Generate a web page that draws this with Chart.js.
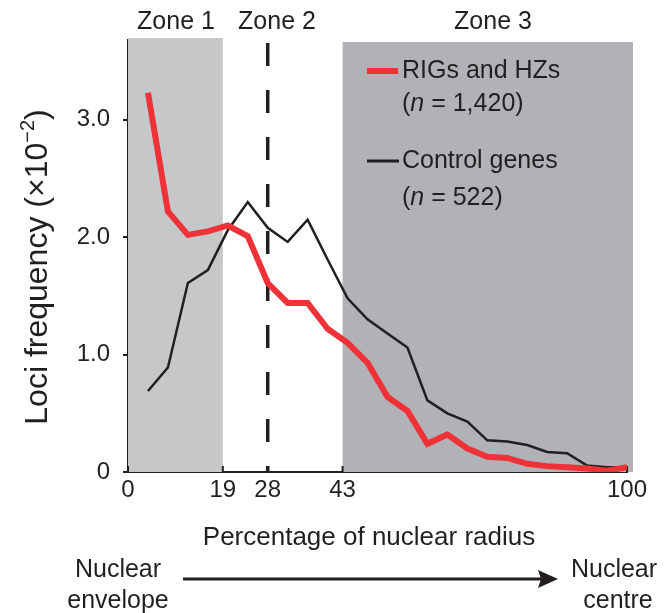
<!DOCTYPE html>
<html>
<head>
<meta charset="utf-8">
<script src="https://cdn.jsdelivr.net/npm/chart.js@4.4.1/dist/chart.umd.min.js"></script>
<style>
html,body{margin:0;padding:0;background:#fff;}
#c{display:block;}
</style>
</head>
<body>
<canvas id="c" width="672" height="613"></canvas>
<script>
// ---- Data ----
const radiusPct = [4, 8, 12, 16, 20, 24, 28, 32, 36, 40, 44, 48, 52, 56, 60, 64, 68, 72, 76, 80, 84, 88, 92, 96, 100];
const rigsHzs   = [3.23, 2.22, 2.02, 2.05, 2.10, 2.01, 1.61, 1.44, 1.44, 1.22, 1.10, 0.93, 0.64, 0.52, 0.24, 0.32, 0.20, 0.13, 0.12, 0.07, 0.05, 0.04, 0.03, 0.01, 0.04];
const controlGenes = [0.69, 0.89, 1.61, 1.72, 2.06, 2.30, 2.08, 1.96, 2.15, 1.81, 1.48, 1.30, 1.18, 1.06, 0.61, 0.50, 0.43, 0.27, 0.26, 0.23, 0.17, 0.16, 0.055, 0.04, 0.04];
const xTickValues = [0, 19, 28, 43, 100];
const xTickLabels = ['0', '19', '28', '43', '100'];
const yTickValues = [0, 1, 2, 3];
const yTickLabels = ['0', '1.0', '2.0', '3.0'];
const zoneBounds = [0, 19, 43, 100];   // zone 1: 0-19, zone 2: 19-43, zone 3: 43-100
const zoneNames = ['Zone 1', 'Zone 2', 'Zone 3'];
const dividerValue = 28;
const seriesNames = ['RIGs and HZs', 'Control genes'];
const seriesCounts = ['1,420', '522'];

const INK = '#231f20';
const RED = '#ee3238';
const FONT = "'Liberation Sans', Arial, Helvetica, sans-serif";

const decor = {
  id: 'decor',
  beforeDatasetsDraw(chart) {
    const {ctx, chartArea: a, scales: {x}} = chart;
    ctx.save();
    // zone 1 shading
    ctx.fillStyle = '#c6c7c9';
    const z1a = x.getPixelForValue(zoneBounds[0]), z1b = x.getPixelForValue(zoneBounds[1]);
    ctx.fillRect(z1a, a.top - 2, z1b - z1a, a.bottom - a.top + 2);
    // zone 3 shading
    ctx.fillStyle = '#b1b2b6';
    const z3a = x.getPixelForValue(zoneBounds[2]), z3b = x.getPixelForValue(zoneBounds[3]);
    ctx.fillRect(z3a, a.top + 2, z3b - z3a + 6, a.bottom - a.top - 2);
    // dashed divider
    const dx = x.getPixelForValue(dividerValue);
    ctx.strokeStyle = INK;
    ctx.lineWidth = 3.5;
    ctx.setLineDash([23, 24]);
    ctx.beginPath();
    ctx.moveTo(dx, a.top + 3);
    ctx.lineTo(dx, a.bottom);
    ctx.stroke();
    ctx.setLineDash([]);
    // inward x tick marks
    ctx.lineWidth = 2;
    xTickValues.forEach(v => {
      const px = x.getPixelForValue(v);
      ctx.beginPath();
      ctx.moveTo(px, a.bottom);
      ctx.lineTo(px, a.bottom - 6);
      ctx.stroke();
    });
    ctx.restore();
  },
  afterDraw(chart) {
    const {ctx} = chart;
    ctx.save();
    ctx.fillStyle = INK;
    ctx.textBaseline = 'alphabetic';
    // zone labels
    ctx.font = `25px ${FONT}`;
    ctx.textAlign = 'center';
    const zoneCenters = [176, 277, 493];
    zoneNames.forEach((n, i) => ctx.fillText(n, zoneCenters[i], 29));

    // legend
    ctx.textAlign = 'left';
    ctx.lineCap = 'butt';
    ctx.strokeStyle = RED; ctx.lineWidth = 6;
    ctx.beginPath(); ctx.moveTo(367, 71); ctx.lineTo(398, 71); ctx.stroke();
    ctx.strokeStyle = INK; ctx.lineWidth = 3;
    ctx.beginPath(); ctx.moveTo(367, 161); ctx.lineTo(399, 161); ctx.stroke();
    ctx.font = `25px ${FONT}`;
    ctx.fillText(seriesNames[0], 402, 78);
    ctx.fillText(seriesNames[1], 402, 168);
    const drawN = (count, y) => {
      let cx = 402;
      ctx.font = `25px ${FONT}`;
      ctx.fillText('(', cx, y); cx += ctx.measureText('(').width;
      ctx.font = `italic 25px ${FONT}`;
      ctx.fillText('n', cx, y); cx += ctx.measureText('n').width;
      ctx.font = `25px ${FONT}`;
      ctx.fillText(' = ' + count + ')', cx, y);
    };
    drawN(seriesCounts[0], 111);
    drawN(seriesCounts[1], 205);

    // y-axis title with superscript
    ctx.save();
    ctx.translate(47, 267);
    ctx.rotate(-Math.PI / 2);
    const mainF = `32px ${FONT}`, supF = `20px ${FONT}`;
    const p1 = 'Loci frequency (\u00d710', p2 = '\u22122', p3 = ')';
    ctx.font = mainF; const w1 = ctx.measureText(p1).width, w3 = ctx.measureText(p3).width;
    ctx.font = supF; const w2 = ctx.measureText(p2).width;
    let sx = -(w1 + w2 + w3) / 2;
    ctx.textAlign = 'left';
    ctx.font = mainF; ctx.fillText(p1, sx, 0); sx += w1;
    ctx.font = supF; ctx.fillText(p2, sx, -13); sx += w2;
    ctx.font = mainF; ctx.fillText(p3, sx, 0);
    ctx.restore();

    // x-axis title
    ctx.font = `26px ${FONT}`;
    ctx.textAlign = 'center';
    ctx.fillText('Percentage of nuclear radius', 369, 545);

    // bottom annotation
    ctx.font = `25px ${FONT}`;
    ctx.fillText('Nuclear', 118, 577);
    ctx.fillText('envelope', 118, 608);
    ctx.fillText('Nuclear', 614, 577);
    ctx.fillText('centre', 618, 608);
    ctx.strokeStyle = INK; ctx.lineWidth = 3;
    ctx.beginPath(); ctx.moveTo(183, 579); ctx.lineTo(545, 579); ctx.stroke();
    ctx.beginPath();
    ctx.moveTo(558, 579); ctx.lineTo(538, 570); ctx.lineTo(541, 579); ctx.lineTo(538, 588); ctx.closePath();
    ctx.fill();
    ctx.restore();
  }
};

new Chart(document.getElementById('c'), {
  type: 'line',
  data: {
    datasets: [
      {
        label: seriesNames[0],
        data: radiusPct.map((r, i) => ({x: r, y: rigsHzs[i]})),
        borderColor: RED, borderWidth: 6, pointRadius: 0, tension: 0, fill: false
      },
      {
        label: seriesNames[1],
        data: radiusPct.map((r, i) => ({x: r, y: controlGenes[i]})),
        borderColor: INK, borderWidth: 2.5, pointRadius: 0, tension: 0, fill: false
      }
    ]
  },
  options: {
    responsive: false,
    animation: false,
    devicePixelRatio: 1,
    layout: {padding: {left: 0, right: 45, top: 40, bottom: 0}},
    plugins: {legend: {display: false}, tooltip: {enabled: false}},
    scales: {
      x: {
        type: 'linear', min: 0, max: 100,
        afterBuildTicks: s => { s.ticks = xTickValues.map(v => ({value: v})); },
        afterFit: s => { s.height = 141; },
        ticks: {
          autoSkip: false, maxRotation: 0, padding: 4,
          color: INK, font: {family: FONT, size: 24},
          callback: (v) => { const i = xTickValues.indexOf(v); return i >= 0 ? xTickLabels[i] : ''; }
        },
        grid: {display: true, drawOnChartArea: false, drawTicks: false},
        border: {display: true, color: INK, width: 2}
      },
      y: {
        type: 'linear', min: 0, max: 3.68,
        afterBuildTicks: s => { s.ticks = yTickValues.map(v => ({value: v})); },
        afterFit: s => { s.width = 128; },
        ticks: {
          padding: 13, color: INK, font: {family: FONT, size: 24},
          callback: (v) => { const i = yTickValues.indexOf(v); return i >= 0 ? yTickLabels[i] : ''; }
        },
        grid: {display: true, drawOnChartArea: false, drawTicks: true, tickLength: 5, color: INK, lineWidth: 2},
        border: {display: true, color: INK, width: 2}
      }
    }
  },
  plugins: [decor]
});
</script>
</body>
</html>
